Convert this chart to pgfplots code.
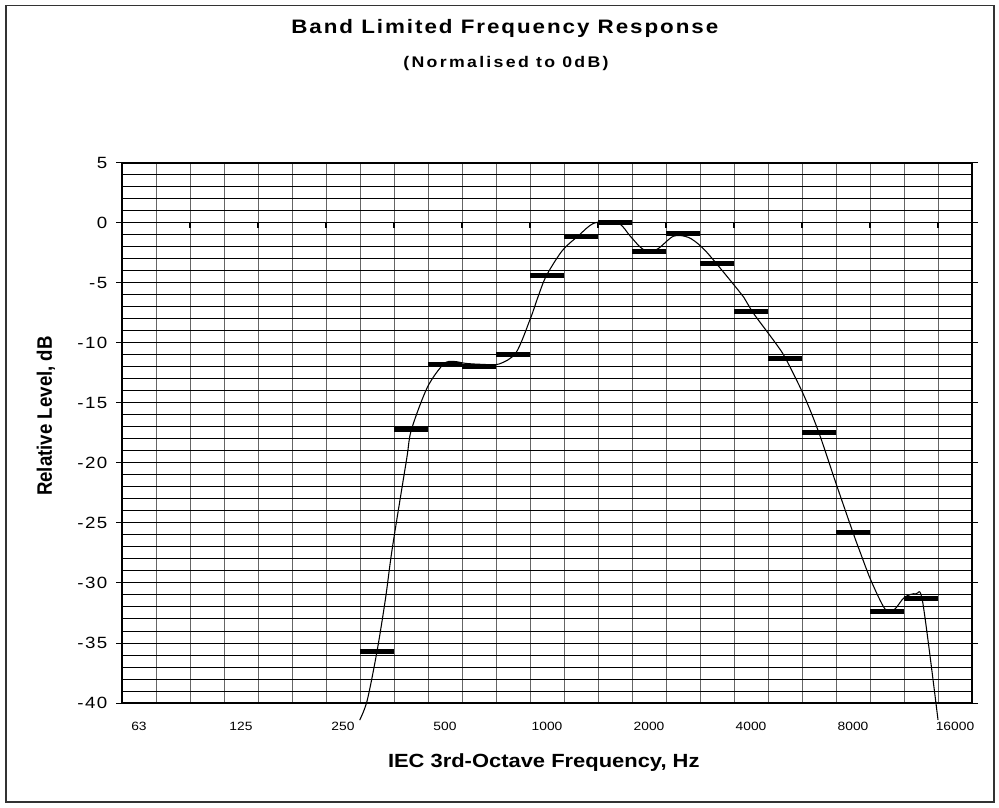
\documentclass[border=0pt]{standalone}
\usepackage{fontspec}
\setmainfont{Liberation Sans}
\newfontfamily\titlefam{Liberation Sans}[FakeStretch=1.15, LetterSpace=10]
\newfontfamily\subfam{Liberation Sans}[FakeStretch=1.15, LetterSpace=15]
\newfontfamily\xlabfam{Liberation Sans}[FakeStretch=1.15]
\newfontfamily\tickfam{Liberation Sans}[FakeStretch=1.15, LetterSpace=9]
\newfontfamily\xtickfam{Liberation Sans}[FakeStretch=1.15]
\usepackage{pgfplots}
\pgfplotsset{compat=1.18}
\begin{document}
\begin{tikzpicture}
\path[use as bounding box] (0,0) rectangle (749.25pt,605.25pt);
\draw[line width=1.1pt, black!80] (4.5pt,601.1pt) rectangle (745.5pt,3.75pt);
\begin{axis}[
  at={(91.5pt,78pt)}, anchor=south west,
  width=637.5pt, height=405pt, scale only axis,
  xmin=-0.5, xmax=24.5, ymin=-40, ymax=5,
  clip=false,
  xtick={0,3,...,24},
  xticklabels={63,125,250,500,1000,2000,4000,8000,16000},
  minor xtick={0.5,1.5,...,23.5},
  xminorgrids=true, xmajorgrids=false,
  ytick={-40,-35,...,5},
  minor y tick num=4,
  ymajorgrids=true, yminorgrids=true,
  major y grid style={black, line width=0.75pt},
  minor y grid style={black, line width=0.75pt},
  minor x grid style={black!60, line width=0.75pt},
  tick align=outside,
  major tick length=4.5pt,
  minor tick length=0pt,
  xtick style={draw=none},
  ytick style={black, line width=0.75pt},
  axis line style={black, line width=1pt},
  /pgf/number format/assume math mode=true,
  yticklabel style={font=\tickfam\fontsize{12.2}{14}\selectfont, xshift=-3pt},
  xticklabel style={font=\xtickfam\fontsize{9}{10}\selectfont, yshift=-6.4pt},
  title={\titlefam\bfseries\fontsize{14.6}{16}\selectfont Band Limited Frequency Response},
  title style={at={(rel axis cs:0.4504,1.2244)}, anchor=base, inner sep=0pt, yshift=0pt},
  xlabel={\xlabfam\bfseries\fontsize{14.3}{16}\selectfont IEC 3rd-Octave Frequency, Hz},
  xlabel style={at={(rel axis cs:0.4962,-0.1189)}, anchor=base, inner sep=0pt, yshift=0pt},
  ylabel={\scalebox{1}[1.12]{\bfseries\fontsize{14}{16}\selectfont Relative Level, dB}},
  ylabel style={at={(rel axis cs:-0.0896,0.5315)}, anchor=center, inner sep=0pt},
]
% smoothed response line
\addplot[black, line width=0.8pt, smooth, tension=0.5] coordinates {
(6.49,-41.43) (6.71,-39.8) (7.00,-35.7) (7.25,-31.3) (7.45,-27.1)
(7.87,-19.7) (8.01,-17.25) (8.48,-13.7) (8.96,-11.75) (9.26,-11.54)
(9.61,-11.7) (10.1,-11.78) (10.59,-11.75) (11.09,-10.8) (11.52,-7.9)
(11.73,-6.2) (11.98,-4.4) (12.45,-2.3) (12.91,-1.1) (13.40,0) (14.09,0)
(14.45,-1.1) (14.83,-2.2) (15.23,-2.2) (15.72,-1.1) (16.16,-1.2)
(16.55,-2.0) (16.95,-3.27) (17.79,-6.2) (18.04,-7.4) (18.72,-10.0)
(19.02,-11.3) (19.56,-14.4) (20.0,-17.5) (20.5,-21.7) (21.0,-25.8)
(21.18,-27.2) (21.53,-29.8) (21.95,-32.2) (22.22,-32.2) (22.51,-31.2)
(22.85,-30.9) (23.05,-31.6) (23.50,-41.4)
};
% band levels
\addplot[only marks, mark=-, mark size=13.1pt, mark options={line width=3.75pt, black}] coordinates {
(7,-35.7) (8,-17.25) (9,-11.8) (10,-12.0) (11,-11.0) (12,-4.4) (13,-1.1)
(14,0.0) (15,-2.4) (16,-0.9) (17,-3.4) (18,-7.4) (19,-11.3) (20,-17.5)
(21,-25.8) (22,-32.4) (23,-31.3)
};
% axis-crossing tick marks at 0 dB
\addplot[only marks, mark=|, mark size=1.9pt, mark options={line width=1pt, black}] coordinates {
(1.5,-0.2) (3.5,-0.2) (5.5,-0.2) (7.5,-0.2) (9.5,-0.2) (11.5,-0.2)
(13.5,-0.2) (15.5,-0.2) (17.5,-0.2) (19.5,-0.2) (21.5,-0.2) (23.5,-0.2)
};
\node[anchor=base, inner sep=0pt] at (rel axis cs:0.4518,1.1763) {\subfam\bfseries\fontsize{11.55}{13}\selectfont (Normalised to 0dB)};
\end{axis}
\end{tikzpicture}
\end{document}
